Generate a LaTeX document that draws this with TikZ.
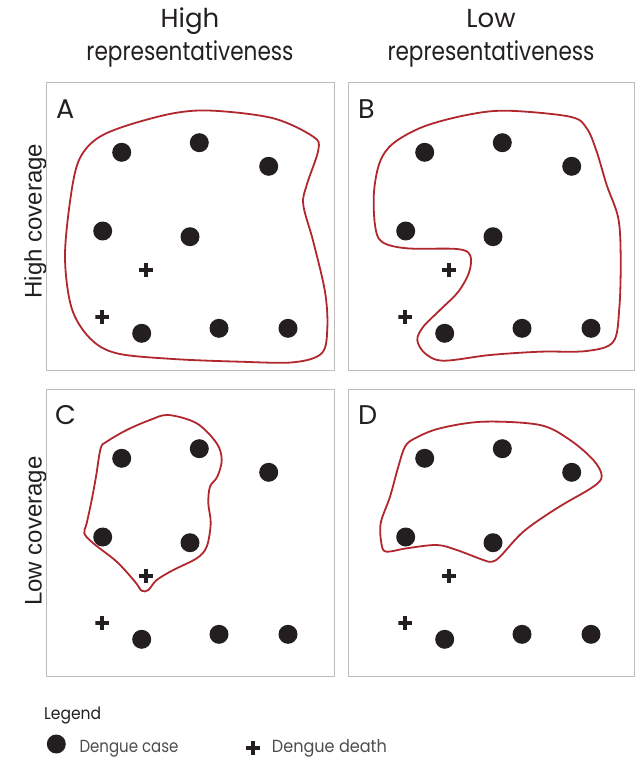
\documentclass[tikz,border=0pt]{standalone}
\usepackage{fontspec}
\usepackage{graphicx}
\setmainfont{Poppins}
\newfontfamily\rowfont{Liberation Sans}
\definecolor{fg}{HTML}{231F20}
\definecolor{legendgray}{HTML}{4D4D4D}
\definecolor{boxgray}{HTML}{BDBDBD}
\definecolor{hullred}{HTML}{B0272D}
\newcommand\fitw[2]{\resizebox{#1}{\height}{#2}}
\begin{document}
\begin{tikzpicture}[x=1pt,y=-1pt,
  panelbox/.style={draw=boxgray,line width=0.9pt},
  hull/.style={draw=hullred,line width=1.8pt,line join=round},
  casedot/.style={circle,fill=fg,draw=none,minimum size=19pt,inner sep=0pt},
  deathmark/.style={draw=none,minimum size=14pt,inner sep=0pt,
    path picture={
      \fill[fg] ([xshift=-7pt,yshift=-2pt]path picture bounding box.center) rectangle ([xshift=7pt,yshift=2pt]path picture bounding box.center);
      \fill[fg] ([xshift=-2pt,yshift=-7pt]path picture bounding box.center) rectangle ([xshift=2pt,yshift=7pt]path picture bounding box.center);}},
  title/.style={font=\fontsize{26}{30}\selectfont,text=fg,inner sep=0pt,anchor=base},
  rowlabel/.style={font=\rowfont\fontsize{24}{28}\selectfont,text=fg,inner sep=0pt,anchor=base,rotate=90},
  panellabel/.style={font=\fontsize{27}{30}\selectfont,text=fg,inner sep=0pt,anchor=base west},
  legendtext/.style={font=\fontsize{17.5}{20}\selectfont,text=legendgray,inner sep=0pt,anchor=base west}
]
\useasboundingbox (0,0) rectangle (635,760);

\newcommand\paneldots{%
  \node[casedot] (c1) at (75.7,70.3) {};
  \node[casedot] (c2) at (153.3,60.7) {};
  \node[casedot] (c3) at (222.7,84.3) {};
  \node[casedot] (c4) at (56.7,149) {};
  \node[casedot] (c5) at (144,154.7) {};
  \node[casedot] (c6) at (95.7,251.3) {};
  \node[casedot] (c7) at (173,246.3) {};
  \node[casedot] (c8) at (242,246.3) {};
  \node[deathmark] (d1) at (100,188) {};
  \node[deathmark] (d2) at (56.3,235.3) {};
}

% titles
\node[title] (t1a) at (190,27.5) {High};
\node[title] (t1b) at (190,60) {\fitw{207pt}{representativeness}};
\node[title] (t2a) at (491,27.5) {Low};
\node[title] (t2b) at (491,60) {\fitw{207pt}{representativeness}};

% row labels
\node[rowlabel] (r1) at (41.5,221) {High coverage};
\node[rowlabel] (r2) at (41.5,531) {Low coverage};

% panel boxes
\draw[panelbox] (46,82) rectangle (334,370);
\draw[panelbox] (348,82) rectangle (634,370);
\draw[panelbox] (46,389) rectangle (334,676);
\draw[panelbox] (348,389) rectangle (634,676);

\node[panellabel] (LA) at (56,118.5) {A};
\node[panellabel] (LB) at (358,118.5) {B};
\node[panellabel] (LC) at (55,424.5) {C};
\node[panellabel] (LD) at (358,424.5) {D};

% hulls
\draw[hull] plot[smooth cycle,tension=0.55] coordinates {
(213.3,110.7) (273.3,118.3) (313.3,136.7) (318.3,150) (306.7,185) (303.3,205)
(313.3,241.7) (325,291.7) (327.3,328.3) (321.7,353.3) (293.3,362.3) (240,361.7)
(173.3,359) (116.7,353.3) (90,338.3) (71.7,308.3) (65,258.3) (70,201.7)
(78.3,161.7) (95,140) (123.3,126.7) (173.3,113.3)};

\draw[hull] plot[smooth cycle,tension=0.55] coordinates {
(506.7,110.7) (570,116.7) (586.7,128.3) (596.7,151.7) (606.7,185) (618.3,218.3)
(620.7,258.3) (619.3,308.3) (613.3,341.7) (586.7,351) (540,351.7) (490,355)
(443.3,360.7) (425,353.3) (417.3,340) (423.3,326.7) (440,310) (458.3,291.7)
(469.3,271.7) (470,255) (456.7,249) (406.7,248.3) (381.7,241.7) (375,225)
(374,191.7) (380,161.7) (393.3,143.3) (423.3,126.7) (466.7,115)};

\draw[hull] plot[smooth cycle,tension=0.55] coordinates {
(168.3,415) (196.7,423.3) (216.7,443.3) (221.7,460) (217.3,476.7) (210,486.7)
(208.3,503.3) (210.7,523.3) (206.7,546.7) (196.7,558.3) (173.3,570) (156.7,580)
(148.3,590) (141.7,590.7) (135,581.7) (116.7,561.7) (93.3,543.3) (84.3,533.3)
(86.7,523.3) (91.7,500) (96,476.7) (100.7,448.3) (106.7,441.7) (126.7,430) (150,420)};

\draw[hull] plot[smooth cycle,tension=0.55] coordinates {
(483.3,421.7) (540,425) (570,440) (593.3,460) (601.7,475.7) (593.3,486.7)
(556.7,508.3) (523.3,531.7) (500,556.7) (491.7,561.7) (483.3,560) (456.7,550)
(436.7,545) (406.7,548.3) (386.7,551.7) (381.7,545) (380.7,523.3) (390,496.7)
(398.3,466.7) (405,446.7) (415,438.3) (440,428.3)};

% dots and deaths
\begin{scope}[shift={(46,82)},name prefix=A-] \paneldots \end{scope}
\begin{scope}[shift={(349,82)},name prefix=B-] \paneldots \end{scope}
\begin{scope}[shift={(46,388)},name prefix=C-] \paneldots \end{scope}
\begin{scope}[shift={(349,388)},name prefix=D-] \paneldots \end{scope}

% legend
\node[legendtext,text=fg,font=\fontsize{17}{20}\selectfont] (leg) at (44,719) {\fitw{57pt}{Legend}};
\node[casedot] (legcase) at (56.3,744) {};
\node[legendtext] (legcasetxt) at (79.3,752.5) {\fitw{99pt}{Dengue case}};
\node[deathmark,minimum size=16pt] (legdeath) at (253.3,747.5) {};
\node[legendtext] (legdeathtxt) at (271.7,752.5) {\fitw{115pt}{Dengue death}};
\end{tikzpicture}
\end{document}
